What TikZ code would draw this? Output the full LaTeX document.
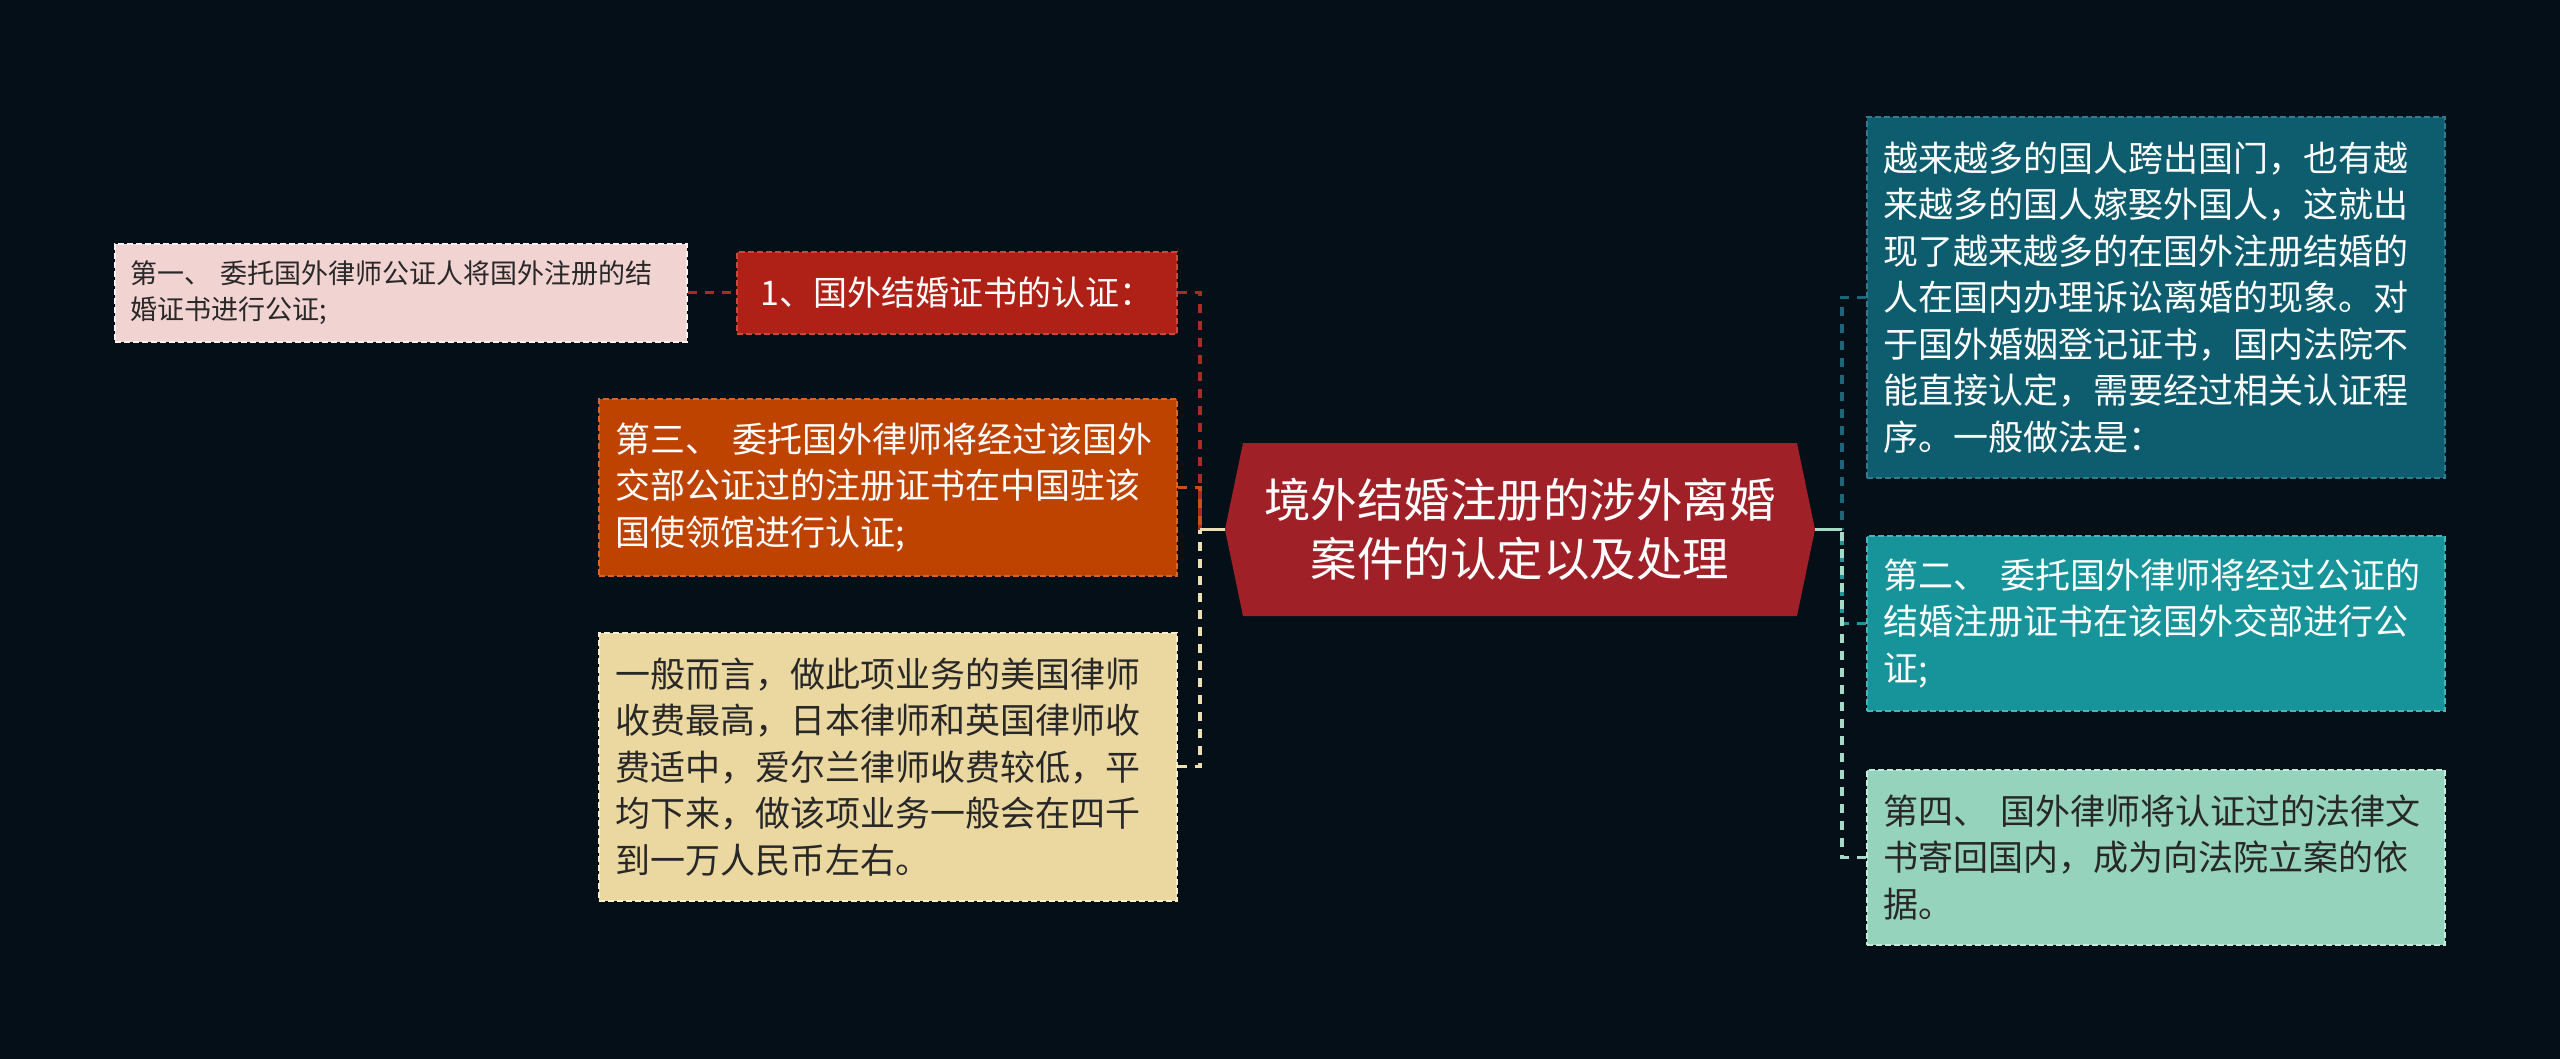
\documentclass[tikz,border=0pt]{standalone}
\usepackage{fontspec}
\newfontfamily\cjk{Noto Sans CJK SC}
\definecolor{bgc}{RGB}{5,15,23}
\definecolor{pinkF}{RGB}{241,211,210}
\definecolor{pinkD}{RGB}{252,242,242}
\definecolor{redF}{RGB}{175,33,22}
\definecolor{redD}{RGB}{205,70,60}
\definecolor{oraF}{RGB}{190,66,0}
\definecolor{oraD}{RGB}{215,100,45}
\definecolor{begF}{RGB}{235,216,160}
\definecolor{begD}{RGB}{248,238,205}
\definecolor{ctrF}{RGB}{160,32,40}
\definecolor{dtF}{RGB}{14,93,111}
\definecolor{dtD}{RGB}{45,125,145}
\definecolor{tlF}{RGB}{22,148,153}
\definecolor{tlD}{RGB}{70,180,185}
\definecolor{mnF}{RGB}{150,211,189}
\definecolor{mnD}{RGB}{195,235,220}
\definecolor{txtD}{RGB}{40,40,40}
\definecolor{lnRed}{RGB}{172,42,36}
\definecolor{lnOra}{RGB}{200,82,22}
\definecolor{lnBeg}{RGB}{236,223,178}
\definecolor{lnDT}{RGB}{28,102,122}
\definecolor{lnTl}{RGB}{32,150,156}
\definecolor{lnMn}{RGB}{165,218,200}
\begin{document}
\begin{tikzpicture}[x=1pt,y=-1pt,
  box/.style={draw, dash pattern=on 6pt off 3pt, line width=1.6pt, anchor=north west,
    inner xsep=17pt, inner ysep=0pt, align=left},
  body/.style={font=\cjk\fontsize{35}{46.5}\selectfont, text width=544pt, minimum width=578pt},
  conn/.style={line width=3.2pt, dash pattern=on 9pt off 8pt},
  stem/.style={line width=3.2pt},
]
\useasboundingbox (0,0) rectangle (2560,1059);
\fill[bgc] (0,0) rectangle (2560,1059);

% center
\fill[ctrF] (1243,443) -- (1797,443) -- (1815,529.5) -- (1797,616) -- (1243,616) -- (1225,529.5) -- cycle;
\node[font=\cjk\fontsize{46.5}{59}\selectfont, text=white, align=center] (center) at (1520,529.5)
  {境外结婚注册的涉外离婚\\案件的认定以及处理};
\coordinate (cL) at (1225,529.5);
\coordinate (cR) at (1815,529.5);
\coordinate (bL) at (1200,529.5);
\coordinate (bR) at (1842,529.5);

% left side
\node[box, fill=pinkF, draw=pinkD, text=txtD, font=\cjk\fontsize{27}{36}\selectfont,
  inner xsep=16pt, text width=540pt, minimum width=572pt, minimum height=98pt] (pink) at (114,243)
  {第一、~委托国外律师公证人将国外注册的结\\婚证书进行公证;};
\node[box, fill=redF, draw=redD, text=white, font=\cjk\fontsize{34}{44}\selectfont, align=center,
  text width=406pt, minimum width=440pt, minimum height=82pt] (red) at (736,251)
  {1、国外结婚证书的认证：};
\node[box, body, fill=oraF, draw=oraD, text=white, minimum height=177pt] (orange) at (598,398)
  {第三、~委托国外律师将经过该国外\\交部公证过的注册证书在中国驻该\\国使领馆进行认证;};
\node[box, body, fill=begF, draw=begD, text=txtD, minimum height=268pt] (beige) at (598,632)
  {一般而言，做此项业务的美国律师\\收费最高，日本律师和英国律师收\\费适中，爱尔兰律师收费较低，平\\均下来，做该项业务一般会在四千\\到一万人民币左右。};

% right side
\node[box, body, fill=dtF, draw=dtD, text=white, minimum height=361pt] (dteal) at (1866,116)
  {越来越多的国人跨出国门，也有越\\来越多的国人嫁娶外国人，这就出\\现了越来越多的在国外注册结婚的\\人在国内办理诉讼离婚的现象。对\\于国外婚姻登记证书，国内法院不\\能直接认定，需要经过相关认证程\\序。一般做法是：};
\node[box, body, fill=tlF, draw=tlD, text=white, minimum height=175pt] (teal) at (1866,535)
  {第二、~委托国外律师将经过公证的\\结婚注册证书在该国外交部进行公\\证;};
\node[box, body, fill=mnF, draw=mnD, text=txtD, minimum height=175pt] (mint) at (1866,769)
  {第四、~国外律师将认证过的法律文\\书寄回国内，成为向法院立案的依\\据。};

% connectors left
\draw[conn, lnRed] (pink.east) -- (red.west);
\draw[conn, lnRed] (red.east) -- (red.east -| bL) -- (bL);
\draw[conn, lnOra] (orange.east) -- (orange.east -| bL) -- (bL);
\draw[conn, lnBeg] (beige.east) -- (beige.east -| bL) -- (bL);
\draw[stem, lnBeg] (bL) -- (cL);

% connectors right
\draw[conn, lnDT] (dteal.west) -- (dteal.west -| bR) -- (bR);
\draw[conn, lnTl] (teal.west) -- (teal.west -| bR) -- (bR);
\draw[conn, lnMn] (mint.west) -- (mint.west -| bR) -- (bR);
\draw[stem, lnMn] (bR) -- (cR);
\end{tikzpicture}
\end{document}
